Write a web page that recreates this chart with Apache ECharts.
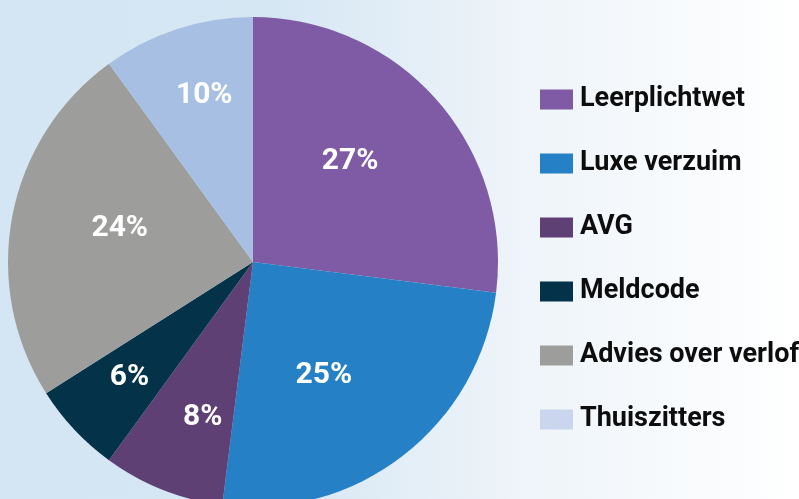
<!DOCTYPE html>
<html>
<head>
<meta charset="utf-8">
<script src="https://cdn.jsdelivr.net/npm/echarts@6/dist/echarts.min.js"></script>
<style>
  html, body { margin: 0; padding: 0; }
  body {
    width: 799px; height: 499px; overflow: hidden;
    background: linear-gradient(to right, #d4e6f3 0%, #d6e7f4 35%, #eef4f9 65%, #ffffff 100%);
  }
  #chart { width: 799px; height: 499px; }
</style>
</head>
<body>
<div id="chart"></div>
<script>
// categories en waarden (procenten)
const categories = ["Leerplichtwet", "Luxe verzuim", "AVG", "Meldcode", "Advies over verlof", "Thuiszitters"];
const values = [27, 25, 8, 6, 24, 10];
const sliceColors = ["#7f5ba6", "#2580c5", "#5e4074", "#033249", "#9d9d9c", "#a6bfe2"];
const legendColors = ["#7f5ba6", "#2580c5", "#5e4074", "#033249", "#9d9d9c", "#c9d6ee"];
// labels staan niet allemaal precies in het midden (best fit), kleine verschuiving per stuk
const labelOffsets = [[3, -18], [-6, 14], [-4, 39], [-32, 30], [-10, -10], [-10, -47]];

const chart = echarts.init(document.getElementById("chart"));

const pieData = categories.map((name, i) => ({
  name: name,
  value: values[i],
  itemStyle: { color: sliceColors[i] },
  label: { offset: labelOffsets[i] }
}));

const option = {
  backgroundColor: "transparent",
  animation: false,
  legend: {
    orient: "vertical",
    left: 540,
    top: 86,
    padding: 0,
    itemWidth: 33,
    itemHeight: 20,
    itemGap: 37,
    icon: "rect",
    textStyle: {
      fontFamily: "Roboto",
      fontWeight: "bold",
      fontSize: 27,
      color: "#0d0d0d",
      padding: [0, 0, 0, 2]
    },
    data: categories.map((name, i) => ({
      name: name,
      itemStyle: { color: legendColors[i] }
    }))
  },
  series: [
    {
      type: "pie",
      center: [253, 262],
      radius: [0, 245],
      startAngle: 90,
      clockwise: true,
      label: {
        show: true,
        position: "inside",
        formatter: "{c}%",
        color: "#ffffff",
        fontFamily: "Roboto",
        fontWeight: "bold",
        fontSize: 30
      },
      labelLine: { show: false },
      itemStyle: { borderWidth: 0 },
      emphasis: { disabled: true },
      data: pieData
    }
  ]
};

chart.setOption(option);
</script>
</body>
</html>
